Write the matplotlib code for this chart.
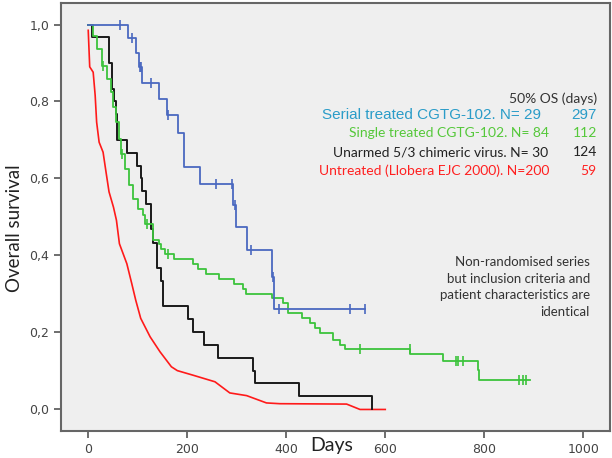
import numpy as np
import matplotlib
matplotlib.use('Agg')
import matplotlib.pyplot as plt

# Serial treated CGTG-102 (N=29)
serial_t = [0, 80, 96, 103, 108, 143, 160, 181, 194, 226, 292, 298, 321, 372, 376, 560]
serial_s = [1.0, 0.965, 0.925, 0.89, 0.849, 0.807, 0.766, 0.719, 0.629, 0.586, 0.53, 0.474, 0.413, 0.344, 0.26, 0.26]
serial_cens = [64, 88, 104, 106, 127, 162, 259, 290, 296, 329, 373, 385, 529, 560]

# Single treated CGTG-102 (N=84)
single_t = [0, 10, 17, 27, 37, 45, 51, 56, 62, 67, 74, 83, 91, 101, 111, 115, 131, 143, 148, 155,
            173, 212, 222, 238, 265, 294, 313, 319, 372, 394, 403, 431, 448, 458, 468, 495, 508,
            518, 650, 717, 787, 790, 892]
single_s = [1.0, 0.97, 0.937, 0.893, 0.859, 0.824, 0.785, 0.746, 0.703, 0.664, 0.625, 0.582, 0.547,
            0.521, 0.504, 0.482, 0.439, 0.43, 0.416, 0.404, 0.391, 0.378, 0.365, 0.352, 0.338, 0.326,
            0.313, 0.30, 0.288, 0.275, 0.249, 0.236, 0.223, 0.21, 0.197, 0.179, 0.166, 0.156, 0.143,
            0.125, 0.101, 0.075, 0.075]
single_cens = [29, 69, 118, 162, 549, 649, 743, 746, 758, 871, 879, 884]

# Unarmed 5/3 chimeric virus (N=30)
unarmed_t = [0, 7, 42, 48, 53, 56, 59, 79, 99, 106, 109, 117, 126, 131, 138, 148, 152, 202, 212,
             234, 263, 332, 337, 426, 574]
unarmed_s = [1.0, 0.967, 0.9, 0.833, 0.8, 0.767, 0.7, 0.667, 0.633, 0.6, 0.567, 0.533, 0.467, 0.433,
             0.367, 0.333, 0.267, 0.233, 0.2, 0.167, 0.133, 0.1, 0.067, 0.033, 0.0]

untreated_t = [0, 3, 10, 14, 17, 22, 30, 36, 42, 51, 57, 63, 78, 88, 96, 106, 125, 145, 168, 180,
               212, 256, 286, 320, 360, 387, 522, 549, 600]
untreated_s = [0.985, 0.89, 0.876, 0.816, 0.746, 0.694, 0.668, 0.616, 0.565, 0.525, 0.491, 0.43,
               0.378, 0.326, 0.283, 0.236, 0.188, 0.149, 0.11, 0.1, 0.088, 0.071, 0.042, 0.035,
               0.016, 0.014, 0.013, -0.001, -0.001]

legend_labels = ['Serial treated CGTG-102. N= 29', 'Single treated CGTG-102. N= 84',
                 'Unarmed 5/3 chimeric virus. N= 30', 'Untreated (Llobera EJC 2000). N=200']
os_days = ['297', '112', '124', '59']

x_ticks = [0, 200, 400, 600, 800, 1000]
y_ticks = [0.0, 0.2, 0.4, 0.6, 0.8, 1.0]


def km_at(times, surv, t):
    i = np.searchsorted(times, t, side='right') - 1
    return np.array(surv)[i]


fig = plt.figure(figsize=(6.12, 4.58), dpi=100)
ax = fig.add_axes([61 / 612, 1 - 431 / 458, 549 / 612, 428 / 458])
ax.set_facecolor('#efefef')

blue = '#4a68c0'
green = '#3cc33c'
black = '#1a1a1a'
red = '#ff1a1a'

ax.plot(untreated_t, untreated_s, color=red, lw=1.2)
ax.step(unarmed_t, unarmed_s, where='post', color=black, lw=1.4)
ax.step(single_t, single_s, where='post', color=green, lw=1.3)
ax.plot(single_cens, km_at(single_t, single_s, single_cens), ls='none', marker='|',
        ms=7, mew=1.2, color=green)
ax.step(serial_t, serial_s, where='post', color=blue, lw=1.3)
ax.plot(serial_cens, km_at(serial_t, serial_s, serial_cens), ls='none', marker='|',
        ms=7, mew=1.2, color=blue)

ax.set_xlim(-55, 1054)
ax.set_ylim(-0.057, 1.056)
ax.set_xticks(x_ticks)
ax.set_yticks(y_ticks)
ax.set_yticklabels([f'{v:.1f}'.replace('.', ',') for v in y_ticks])
ax.tick_params(direction='out', length=5, width=1.2, colors='#555', labelcolor='#444', labelsize=9)
for s in ax.spines.values():
    s.set_color('#666')
    s.set_linewidth(1.5)

fig.text(332 / 612, 1 - 446 / 458, 'Days', ha='center', va='center', fontsize=14,
         family='Lato', color='#222')
fig.text(15 / 612, 1 - 228 / 458, 'Overall survival', ha='center', va='center', rotation=90,
         fontsize=13.5, family='Lato', color='#222')

# legend-like text block
ax.text(0.976, 0.777, '50% OS (days)', transform=ax.transAxes, ha='right', va='center',
        fontsize=10, family='Lato', color='#333')
text_cols = ['#2a9cc8', '#55c83a', '#222222', '#ff2020']
label_x = [0.874, 0.888, 0.888, 0.889]
rows_y = [0.738, 0.696, 0.651, 0.608]
fams = ['Liberation Sans', 'Lato', 'Lato', 'Lato']
sizes = [11, 10, 10, 10]
for lab, d, c, lx, ry, fm, fs in zip(legend_labels, os_days, text_cols, label_x, rows_y, fams, sizes):
    ax.text(lx, ry, lab, transform=ax.transAxes, ha='right', va='center', fontsize=fs,
            family=fm, color=c)
    ax.text(0.976, ry, d, transform=ax.transAxes, ha='right', va='center', fontsize=fs,
            family=fm, color=c)

ax.text(0.9636, 0.3364, 'Non-randomised series\nbut inclusion criteria and\npatient characteristics are\nidentical',
        transform=ax.transAxes, ha='right', va='center', multialignment='right', fontsize=9.5,
        family='Lato', color='#333', linespacing=1.45)

fig.savefig('out.png', dpi=100)
